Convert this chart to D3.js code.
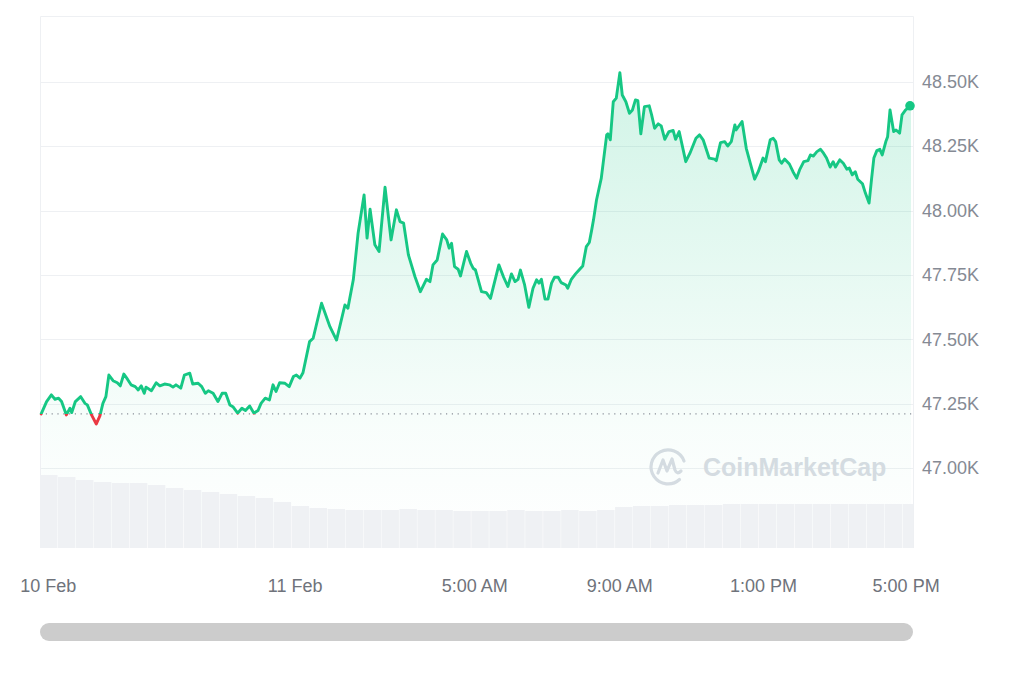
<!DOCTYPE html>
<html>
<head>
<meta charset="utf-8">
<script src="https://cdn.jsdelivr.net/npm/d3@7"></script>
<style>
  html, body { margin: 0; padding: 0; background: #ffffff; }
  svg { display: block; font-family: "Liberation Sans", Arial, sans-serif; }
</style>
</head>
<body>
<svg id="chart" width="1024" height="683"></svg>
<script>
// ---------------- DATA ----------------
const startTime = "2024-02-10T16:55:00";
// minutes after start
const minutes = [2,11,19,25,31,36,44,50,53,59,68,75,79,86,94,100,105,110,115,122,129,134,140,146,152,159,164,169,174,177,186,194,200,208,216,222,227,235,241,250,255,264,270,276,281,289,297,304,310,317,322,330,337,343,350,357,364,369,376,383,389,394,
400,409,416,423,428,434,439,450,456,470,484,495,509,514,523,531,541,546,551,559,566,576,586,595,601,607,615,626,635,645,651,656,663,
672,679,683,687,692,698,702,712,719,723,727,737,745,752,766,774,781,787,793,798,802,809,816,823,829,833,837,843,848,854,859,865,870,878,881,887,894,901,906,912,917,921,924,929,
937,946,948,952,957,962,968,972,978,984,989,994,998,1003,1009,1017,1021,1026,1032,1037,1043,1050,1057,1061,1067,1078,1085,1095,1101,1107,1117,1126,1129,1136,1143,1148,1154,1160,1162,1172,
1179,1185,1193,1199,1207,1211,1219,1224,1228,1234,1238,1243,1251,1257,1263,1268,1275,1282,1286,1291,1297,1303,1308,1313,1319,1324,1328,1335,1341,1347,1351,1356,1361,1365,1373,1378,1384,1388,1392,1397,1402,1406,1412,1415,1419,1425,1429,1435,1439,1445,1454];
// BTC price (USD)
const prices = [47210,47258,47284,47267,47271,47258,47206,47232,47215,47258,47277,47251,47245,47206,47171,47202,47251,47277,47361,47339,47331,47319,47365,47345,47323,47316,47303,47319,47290,47314,47300,47331,47319,47326,47323,47314,47323,47310,47361,47368,47326,47329,47316,47290,47300,47290,47258,47290,47290,47245,47238,47213,47232,47223,47241,47213,47223,47251,47271,47264,47323,47297,
47331,47329,47316,47355,47361,47349,47370,47491,47504,47640,47549,47497,47633,47621,47731,47912,48061,47893,48005,47867,47841,48091,47886,48003,47957,47951,47828,47743,47685,47733,47724,47789,47808,
47909,47886,47854,47873,47782,47772,47746,47841,47795,47776,47769,47685,47681,47659,47789,47741,47705,47754,47724,47733,47769,47711,47624,47698,47731,47718,47733,47656,47656,47718,47741,47741,47720,47711,47698,47733,47754,47772,47785,47860,47876,47925,47964,48041,
48126,48294,48298,48275,48423,48437,48536,48449,48423,48378,48391,48430,48427,48298,48404,48407,48372,48320,48337,48329,48277,48307,48311,48277,48307,48190,48223,48281,48294,48275,48204,48200,48194,48264,48268,48251,48268,48333,48313,48346,
48242,48190,48122,48151,48204,48190,48275,48281,48268,48197,48184,48200,48181,48151,48126,48158,48190,48194,48216,48212,48229,48238,48223,48204,48169,48190,48169,48197,48184,48161,48165,48139,48151,48122,48104,48067,48029,48119,48204,48233,48238,48216,48268,48287,48391,48307,48313,48301,48372,48391,48407];
const openPrice = 47210;
// volume (relative, 30-minute buckets)
const volumes = [36.5,35.5,34,33,32.5,32.5,31.5,30,29,28,27,26,25,23,21,20,19.5,19,19,19,19.5,19,19,18.5,18.5,18.5,19,18.5,18.5,19,18.5,19,20.5,21,21,21.5,21.5,21.5,22,22,22,22,22,22,22,22,22,22,22];
const yTicks = [47000,47250,47500,47750,48000,48250,48500];
const xTickTimes = ["2024-02-10T17:08:00","2024-02-11T00:00:00","2024-02-11T05:00:00","2024-02-11T09:02:00","2024-02-11T13:02:00","2024-02-11T17:00:00"];
const xTickLabels = ["10 Feb","11 Feb","5:00 AM","9:00 AM","1:00 PM","5:00 PM"];

// ---------------- CHART ----------------
const svg = d3.select("#chart");
const pL = 40, pR = 913, pT = 16, pB = 548;
const t0 = new Date(startTime);
const addMin = m => new Date(t0.getTime() + m * 60000);
const data = minutes.map((m, i) => ({ t: addMin(m), p: prices[i] }));

const x = d3.scaleTime().domain([addMin(0), addMin(1454)]).range([pL, 911]);
const y = d3.scaleLinear().domain([46689, 48756]).range([pB, pT]);
const yv = d3.scaleLinear().domain([0, 40]).range([pB, pB - 80]);

const defs = svg.append("defs");
const grad = defs.append("linearGradient").attr("id", "areaGrad")
  .attr("gradientUnits", "userSpaceOnUse").attr("x1", 0).attr("x2", 0).attr("y1", 70).attr("y2", pB);
grad.append("stop").attr("offset", 0).attr("stop-color", "#16c784").attr("stop-opacity", 0.2);
grad.append("stop").attr("offset", 0.75).attr("stop-color", "#16c784").attr("stop-opacity", 0.03);
grad.append("stop").attr("offset", 1).attr("stop-color", "#16c784").attr("stop-opacity", 0.0);

defs.append("clipPath").attr("id", "clipPlot").append("rect")
  .attr("x", pL).attr("y", pT).attr("width", pR - pL).attr("height", pB - pT);
defs.append("clipPath").attr("id", "clipAbove").append("rect")
  .attr("x", 0).attr("y", 0).attr("width", 1024).attr("height", y(openPrice));
defs.append("clipPath").attr("id", "clipBelow").append("rect")
  .attr("x", 0).attr("y", y(openPrice)).attr("width", 1024).attr("height", 683 - y(openPrice));

// frame
svg.append("path")
  .attr("d", `M${pL + 0.5},${pB}V${pT + 0.5}H${pR + 0.5}V${pB}`)
  .attr("fill", "none").attr("stroke", "#eef0f3").attr("stroke-width", 1);

// gridlines
svg.append("g").selectAll("line").data(yTicks).join("line")
  .attr("x1", pL).attr("x2", pR)
  .attr("y1", d => Math.round(y(d)) + 0.5).attr("y2", d => Math.round(y(d)) + 0.5)
  .attr("stroke", "#eef0f3").attr("stroke-width", 1);

// watermark
const wm = svg.append("g").attr("transform", "translate(668,466)");
wm.append("path")
  .attr("d", "M11.5,13.5 A17,17 0 1 1 16,-5")
  .attr("fill", "none").attr("stroke", "#d8dce3").attr("stroke-width", 3.2).attr("stroke-linecap", "round");
wm.append("path")
  .attr("d", "M-10,7 L-5,-6 L-1,5 L4,-7 L7,4 Q9,9 13,5")
  .attr("fill", "none").attr("stroke", "#d8dce3").attr("stroke-width", 3.2)
  .attr("stroke-linecap", "round").attr("stroke-linejoin", "round");
svg.append("text").attr("x", 703).attr("y", 476)
  .attr("font-size", 25).attr("font-weight", 700).attr("fill", "#d8dce3")
  .text("CoinMarketCap");

// area
const area = d3.area().x(d => x(d.t)).y0(pB).y1(d => y(d.p));
svg.append("path").datum(data).attr("d", area).attr("fill", "url(#areaGrad)");

// volume bars
const g30 = 30;
svg.append("g").attr("clip-path", "url(#clipPlot)").selectAll("rect").data(volumes).join("rect")
  .attr("x", (d, i) => x(addMin(i * g30)))
  .attr("width", (d, i) => Math.max(0, x(addMin((i + 1) * g30)) - x(addMin(i * g30)) - 0.5))
  .attr("y", d => yv(d))
  .attr("height", d => pB - yv(d))
  .attr("fill", "#eff1f4");

// baseline (open price)
svg.append("line")
  .attr("x1", pL).attr("x2", pR)
  .attr("y1", y(openPrice)).attr("y2", y(openPrice))
  .attr("stroke", "#8a8f99").attr("stroke-width", 1.2).attr("stroke-dasharray", "1.2,4.6");

// price line: green above open, red below
const line = d3.line().x(d => x(d.t)).y(d => y(d.p));
svg.append("path").datum(data).attr("d", line)
  .attr("clip-path", "url(#clipAbove)")
  .attr("fill", "none").attr("stroke", "#16c784").attr("stroke-width", 2.9)
  .attr("stroke-linejoin", "round").attr("stroke-linecap", "round");
svg.append("path").datum(data).attr("d", line)
  .attr("clip-path", "url(#clipBelow)")
  .attr("fill", "none").attr("stroke", "#ea3943").attr("stroke-width", 2.9)
  .attr("stroke-linejoin", "round").attr("stroke-linecap", "round");

// end dot
const last = data[data.length - 1];
svg.append("circle").attr("cx", x(last.t) - 1).attr("cy", y(last.p)).attr("r", 4.8).attr("fill", "#16c784");

// y axis
const yAxis = d3.axisRight(y).tickValues(yTicks).tickSize(0).tickPadding(9)
  .tickFormat(d => (d / 1000).toFixed(2) + "K");
const gy = svg.append("g").attr("transform", `translate(${pR},0)`).call(yAxis);
gy.select(".domain").remove();
gy.selectAll("text").attr("font-size", 18).attr("fill", "#858a94")
  .attr("font-family", "'Liberation Sans', Arial, sans-serif");

// x axis
const xAxis = d3.axisBottom(x).tickValues(xTickTimes.map(s => new Date(s)))
  .tickSize(0).tickPadding(31).tickFormat((d, i) => xTickLabels[i]);
const gx = svg.append("g").attr("transform", `translate(0,${pB})`).call(xAxis);
gx.select(".domain").remove();
gx.selectAll("text").attr("font-size", 18).attr("fill", "#6f737b")
  .attr("font-family", "'Liberation Sans', Arial, sans-serif");

// scrollbar
svg.append("rect").attr("x", 40).attr("y", 623).attr("width", 873).attr("height", 18)
  .attr("rx", 9).attr("fill", "#cccccc");
</script>
</body>
</html>
